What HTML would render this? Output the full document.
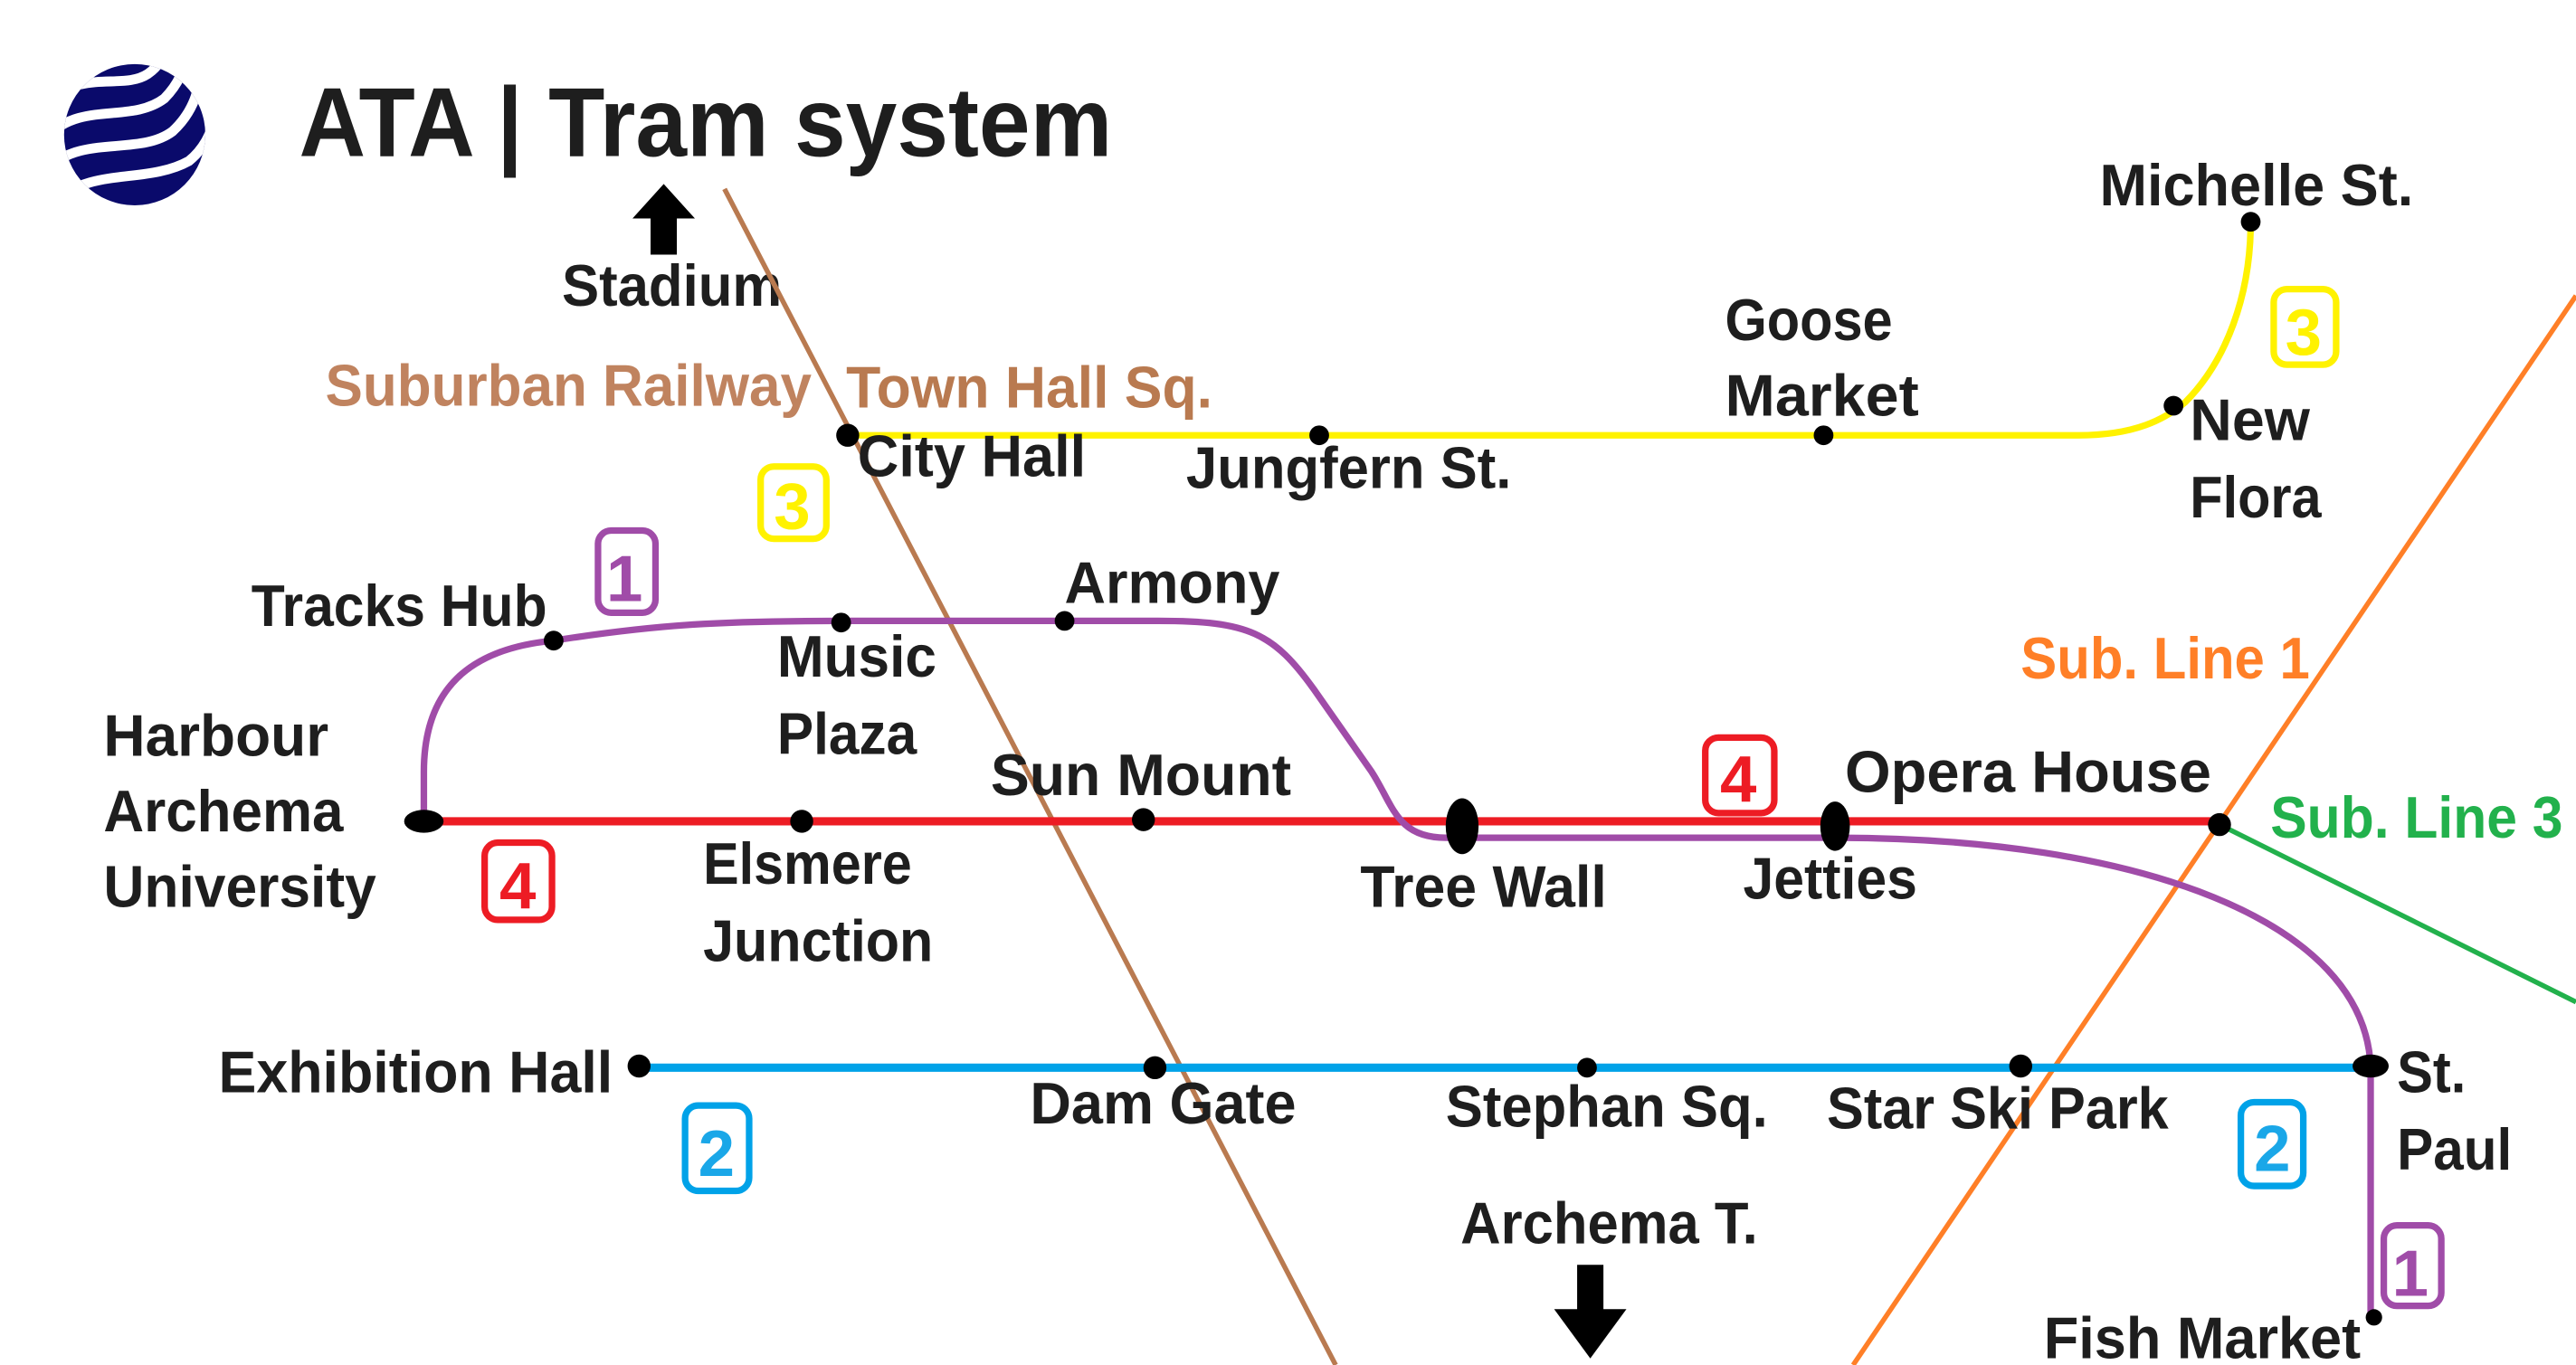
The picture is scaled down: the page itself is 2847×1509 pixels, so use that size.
<!DOCTYPE html>
<html><head><meta charset="utf-8"><style>
html,body{margin:0;padding:0;background:#fff;}
svg{display:block;}
text{font-family:"Liberation Sans",sans-serif;font-weight:bold;fill:#1e1e1e;font-size:36px;}
</style></head><body>
<svg width="2847" height="1509" viewBox="0 0 1568 831" preserveAspectRatio="none" xmlns="http://www.w3.org/2000/svg">
<rect width="1568" height="831" fill="#fff"/>
<!-- logo -->
<defs><clipPath id="lc"><ellipse cx="82" cy="82" rx="43" ry="43"/></clipPath></defs>
<ellipse cx="82" cy="82" rx="43" ry="43" fill="#0a0a6b"/>
<g clip-path="url(#lc)" stroke="#fff" stroke-width="6" fill="none">
<path d="M30 62 C50 42,75 55,90 45 C100 38,100 30,100 30"/>
<path d="M30 82 C50 62,80 75,100 60 C110 50,112 40,112 40"/>
<path d="M30 102 C50 82,85 95,105 80 C118 68,120 55,120 55"/>
<path d="M35 122 C55 102,90 112,115 98 C125 90,128 80,128 80"/>
</g>
<text x="182" y="95" style="font-size:60px" textLength="495" lengthAdjust="spacingAndGlyphs">ATA | Tram system</text>
<!-- stadium arrow -->
<polygon points="404,112 385,133 396,133 396,155 412,155 412,133 423,133" fill="#000"/>
<text x="342" y="186" textLength="134" lengthAdjust="spacingAndGlyphs">Stadium</text>
<!-- suburban lines -->
<line x1="441" y1="115" x2="813" y2="831" stroke="#b97a50" stroke-width="3"/>
<line x1="1128" y1="831" x2="1568" y2="180" stroke="#ff7f27" stroke-width="3"/>
<line x1="1351" y1="502" x2="1568" y2="610" stroke="#22b14c" stroke-width="3"/>
<text x="198" y="247" style="fill:#c0835f" textLength="296" lengthAdjust="spacingAndGlyphs">Suburban Railway</text>
<text x="515" y="248" style="fill:#b97a50" textLength="223" lengthAdjust="spacingAndGlyphs">Town Hall Sq.</text>
<text x="1230" y="413" style="fill:#ff7f27" textLength="176" lengthAdjust="spacingAndGlyphs">Sub. Line 1</text>
<text x="1382" y="510" style="fill:#22b14c" textLength="178" lengthAdjust="spacingAndGlyphs">Sub. Line 3</text>
<!-- yellow line 3 -->
<path d="M516 265 L1265 265 C1300 265,1318 255,1330 245 C1355 220,1370 180,1370 135" stroke="#fff200" stroke-width="4" fill="none"/>
<!-- blue line 2 -->
<line x1="389" y1="650" x2="1443" y2="650" stroke="#00a2e8" stroke-width="5"/>
<!-- red line 4 -->
<line x1="258" y1="500" x2="1351" y2="500" stroke="#ed1c24" stroke-width="5"/>
<!-- purple line 1 -->
<path d="M258 500 L258 470 C258 420,285 395,337 390 C400 380,440 378,512 378 L705 378 C760 378,775 385,800 420 L835 470 C848 490,850 510,880 510 L1117 510 C1300 510,1440 560,1443 650 L1443 800" stroke="#a04ca8" stroke-width="4" fill="none"/>
<!-- stations -->
<g fill="#000">
<circle cx="516" cy="265" r="7"/><circle cx="803" cy="265" r="6"/><circle cx="1110" cy="265" r="6"/><circle cx="1323" cy="247" r="6"/><circle cx="1370" cy="135" r="6"/>
<circle cx="337" cy="390" r="6"/><circle cx="512" cy="379" r="6"/><circle cx="648" cy="378" r="6"/>
<ellipse cx="258" cy="500" rx="12" ry="7"/><circle cx="488" cy="500" r="7"/><circle cx="696" cy="499" r="7"/>
<ellipse cx="890" cy="503" rx="10" ry="17"/><ellipse cx="1117" cy="503" rx="9" ry="15"/><circle cx="1351" cy="502" r="7"/>
<circle cx="389" cy="649" r="7"/><circle cx="703" cy="650" r="7"/><circle cx="966" cy="650" r="6"/><circle cx="1230" cy="649" r="7"/><ellipse cx="1443" cy="649" rx="11" ry="7"/>
<circle cx="1445" cy="802" r="5"/>
</g>
<!-- badges -->
<g fill="none" stroke-width="4">
<rect x="463" y="284" width="40" height="44" rx="8" stroke="#fff200"/>
<rect x="1384" y="176" width="38" height="46" rx="8" stroke="#fff200"/>
<rect x="364" y="323" width="35" height="50" rx="8" stroke="#a04ca8"/>
<rect x="1451" y="746" width="35" height="49" rx="8" stroke="#a04ca8"/>
<rect x="295" y="513" width="41" height="47" rx="8" stroke="#ed1c24"/>
<rect x="1038" y="449" width="42" height="46" rx="8" stroke="#ed1c24"/>
<rect x="417" y="673" width="39" height="52" rx="8" stroke="#00a2e8"/>
<rect x="1364" y="671" width="38" height="51" rx="8" stroke="#00a2e8"/>
</g>
<text x="471" y="322" style="fill:#fff200;font-size:40px">3</text>
<text x="1391" y="216" style="fill:#fff200;font-size:40px">3</text>
<text x="369" y="366" style="fill:#a04ca8;font-size:40px">1</text>
<text x="1456" y="789" style="fill:#a04ca8;font-size:40px">1</text>
<text x="304" y="553" style="fill:#ed1c24;font-size:40px">4</text>
<text x="1047" y="488" style="fill:#ed1c24;font-size:40px">4</text>
<text x="425" y="716" style="fill:#1aa7e8;font-size:40px">2</text>
<text x="1372" y="713" style="fill:#1aa7e8;font-size:40px">2</text>
<!-- labels -->
<text x="522" y="290" textLength="139" lengthAdjust="spacingAndGlyphs">City Hall</text>
<text x="722" y="297" textLength="198" lengthAdjust="spacingAndGlyphs">Jungfern St.</text>
<text x="1050" y="207" textLength="102" lengthAdjust="spacingAndGlyphs">Goose</text>
<text x="1050" y="253" textLength="118" lengthAdjust="spacingAndGlyphs">Market</text>
<text x="1278" y="125" textLength="191" lengthAdjust="spacingAndGlyphs">Michelle St.</text>
<text x="1333" y="268" textLength="73" lengthAdjust="spacingAndGlyphs">New</text>
<text x="1333" y="315" textLength="80" lengthAdjust="spacingAndGlyphs">Flora</text>
<text x="153" y="381" textLength="180" lengthAdjust="spacingAndGlyphs">Tracks Hub</text>
<text x="473" y="412" textLength="97" lengthAdjust="spacingAndGlyphs">Music</text>
<text x="473" y="459" textLength="85" lengthAdjust="spacingAndGlyphs">Plaza</text>
<text x="648" y="367" textLength="131" lengthAdjust="spacingAndGlyphs">Armony</text>
<text x="63" y="460" textLength="137" lengthAdjust="spacingAndGlyphs">Harbour</text>
<text x="63" y="506" textLength="146" lengthAdjust="spacingAndGlyphs">Archema</text>
<text x="63" y="552" textLength="166" lengthAdjust="spacingAndGlyphs">University</text>
<text x="428" y="538" textLength="127" lengthAdjust="spacingAndGlyphs">Elsmere</text>
<text x="428" y="585" textLength="140" lengthAdjust="spacingAndGlyphs">Junction</text>
<text x="603" y="484" textLength="183" lengthAdjust="spacingAndGlyphs">Sun Mount</text>
<text x="828" y="552" textLength="150" lengthAdjust="spacingAndGlyphs">Tree Wall</text>
<text x="1123" y="482" textLength="223" lengthAdjust="spacingAndGlyphs">Opera House</text>
<text x="1061" y="547" textLength="106" lengthAdjust="spacingAndGlyphs">Jetties</text>
<text x="133" y="665" textLength="240" lengthAdjust="spacingAndGlyphs">Exhibition Hall</text>
<text x="627" y="684" textLength="162" lengthAdjust="spacingAndGlyphs">Dam Gate</text>
<text x="880" y="686" textLength="196" lengthAdjust="spacingAndGlyphs">Stephan Sq.</text>
<text x="1112" y="687" textLength="208" lengthAdjust="spacingAndGlyphs">Star Ski Park</text>
<text x="1459" y="665" textLength="42" lengthAdjust="spacingAndGlyphs">St.</text>
<text x="1459" y="712" textLength="70" lengthAdjust="spacingAndGlyphs">Paul</text>
<text x="889" y="757" textLength="181" lengthAdjust="spacingAndGlyphs">Archema T.</text>
<text x="1244" y="827" textLength="193" lengthAdjust="spacingAndGlyphs">Fish Market</text>
<!-- down arrow -->
<polygon points="960,770 976,770 976,797 990,797 968,827 946,797 960,797" fill="#000"/>
</svg>
</body></html>
